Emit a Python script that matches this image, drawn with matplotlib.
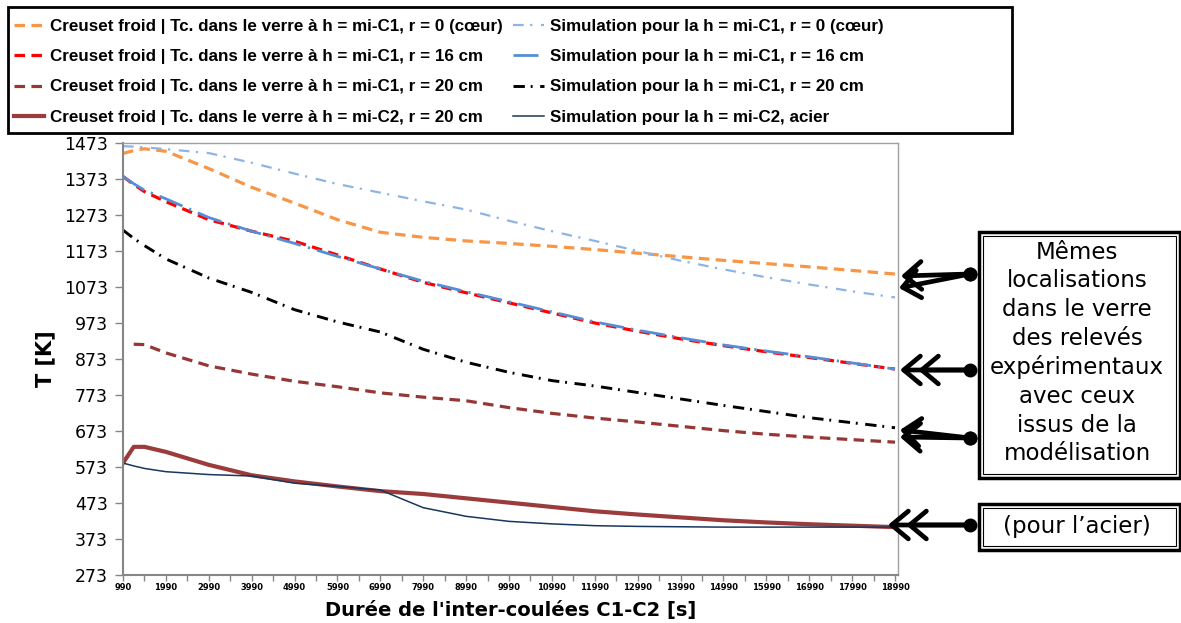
import numpy as np
import matplotlib
matplotlib.use("Agg")
import matplotlib.pyplot as plt
from matplotlib.patches import Rectangle
from matplotlib.lines import Line2D

W, H = 1181, 623

# temps (s) et températures (K)
times_s = [990, 1240, 1490, 1990, 2990, 3990, 4990, 5990, 6990, 7990, 8990,
           9990, 10990, 11990, 12990, 13990, 14990, 15990, 16990, 17990, 18990]

exp_c1_r0 = [1444, 1452, 1457, 1450, 1402, 1350, 1306, 1260, 1225, 1211, 1201,
             1194, 1186, 1177, 1167, 1157, 1147, 1138, 1129, 1119, 1109]
exp_c1_r16 = [1380, 1358, 1338, 1310, 1260, 1228, 1200, 1162, 1123, 1086, 1057,
              1029, 1001, 973, 950, 929, 910, 893, 877, 861, 845]
exp_c1_r20 = [np.nan, 914, 913, 890, 854, 831, 811, 796, 779, 767, 757,
              738, 722, 709, 698, 686, 674, 664, 656, 649, 642]
exp_c2_r20 = [584, 629, 629, 615, 579, 550, 533, 519, 506, 498, 486,
              474, 462, 450, 441, 433, 425, 419, 414, 410, 406]

sim_c1_r0 = [1464, 1463, 1461, 1456, 1445, 1418, 1388, 1359, 1335, 1311, 1288,
             1257, 1228, 1201, 1173, 1146, 1122, 1100, 1080, 1061, 1044]
sim_c1_r16 = [1380, 1360, 1342, 1318, 1266, 1228, 1194, 1158, 1123, 1089, 1060,
              1032, 1004, 976, 953, 932, 912, 895, 879, 862, 845]
sim_c1_r20 = [1231, 1208, 1188, 1151, 1098, 1058, 1010, 976, 948, 900, 864,
              836, 813, 798, 780, 762, 744, 727, 710, 696, 682]
sim_c2_acier = [584, 576, 569, 560, 552, 548, 528, 519, 509, 460, 436,
                422, 415, 410, 408, 407, 406, 406, 406, 406, 406]

y_ticks = list(range(273, 1474, 100))
x_ticks = list(range(990, 18991, 1000))

labels_exp = [
    "Creuset froid | Tc. dans le verre à h = mi-C1, r = 0 (cœur)",
    "Creuset froid | Tc. dans le verre à h = mi-C1, r = 16 cm",
    "Creuset froid | Tc. dans le verre à h = mi-C1, r = 20 cm",
    "Creuset froid | Tc. dans le verre à h = mi-C2, r = 20 cm",
]
labels_sim = [
    "Simulation pour la h = mi-C1, r = 0 (cœur)",
    "Simulation pour la h = mi-C1, r = 16 cm",
    "Simulation pour la h = mi-C1, r = 20 cm",
    "Simulation pour la h = mi-C2, acier",
]


def fx(x):
    return x / W


def fy(y):
    return 1 - y / H


fig = plt.figure(figsize=(W / 100, H / 100), dpi=100)
ax = fig.add_axes([fx(123), fy(575), (898 - 123) / W, (575 - 143) / H])

t = np.array(times_s)
h1, = ax.plot(t, exp_c1_r0, color="#F79646", lw=2.3, dashes=(3.3, 2.0))
h2, = ax.plot(t, exp_c1_r16, color="#FF0000", lw=2.3, dashes=(3.3, 2.0))
h3, = ax.plot(t, exp_c1_r20, color="#953735", lw=2.3, dashes=(3.3, 2.0))
h4, = ax.plot(t, exp_c2_r20, color="#9B3B3B", lw=3.0)
h5, = ax.plot(t, sim_c1_r0, color="#8EB4E3", lw=1.6, dashes=(4.8, 2.9, 1.0, 3.9))
h6, = ax.plot(t, sim_c1_r16, color="#558ED5", lw=2.0, dashes=(9.0, 2.6, 0.8, 2.6))
h7, = ax.plot(t, sim_c1_r20, color="black", lw=2.1, dashes=(3.9, 2.0, 0.65, 2.6))
h8, = ax.plot(t, sim_c2_acier, color="#17375E", lw=1.1)

ax.set_xlim(990, 19060)
ax.set_ylim(273, 1473)
ax.set_yticks(y_ticks)
ax.set_xticks(x_ticks)
ax.set_xticks(np.arange(1490, 19000, 1000), minor=True)
ax.tick_params(axis="y", labelsize=12.5, length=6, width=1, color="#868686", pad=5)
ax.tick_params(axis="x", which="both", length=4, width=1, color="#868686", pad=2)
for lab in ax.get_xticklabels():
    lab.set_fontsize(6)
    lab.set_fontweight("bold")
for sp in ax.spines.values():
    sp.set_color("#A0A0A0")
    sp.set_linewidth(1.0)
ax.spines["left"].set_color("#868686")
ax.spines["left"].set_linewidth(1.5)
ax.spines["bottom"].set_color("#868686")
ax.spines["bottom"].set_linewidth(1.5)

ax.set_xlabel("Durée de l'inter-coulées C1-C2 [s]", fontsize=14, fontweight="bold", labelpad=6)
ax.set_ylabel("T [K]", fontsize=15, fontweight="bold", labelpad=6)

# légende : cadre dessiné à part, plus large que son contenu
fig.add_artist(Rectangle((fx(8), fy(133)), fx(1012 - 8), (133 - 7) / H,
                         transform=fig.transFigure, fill=False, lw=2.0, ec="black"))
leg = fig.legend(
    [h1, h2, h3, h4, h5, h6, h7, h8],
    labels_exp + labels_sim,
    ncol=2,
    loc="upper left",
    bbox_to_anchor=(fx(5), fy(10)),
    bbox_transform=fig.transFigure,
    borderaxespad=0,
    prop={"family": "Liberation Sans", "weight": "bold", "size": 12.25},
    handlelength=1.8,
    handletextpad=0.35,
    columnspacing=0.6,
    labelspacing=0.91,
    borderpad=0.5,
    frameon=False,
)

# encadrés à double trait
for (x0, y0, x1, y1) in [(979, 232, 1180, 478), (979, 504, 1180, 550)]:
    fig.add_artist(Rectangle((fx(x0), fy(y1)), fx(x1 - x0), (y1 - y0) / H,
                             transform=fig.transFigure, fill=False, lw=2.5, ec="black"))
    fig.add_artist(Rectangle((fx(x0 + 4), fy(y1 - 4)), fx(x1 - x0 - 8), (y1 - y0 - 8) / H,
                             transform=fig.transFigure, fill=False, lw=0.8, ec="black"))

fig.text(fx(1077), fy(353),
         "Mêmes\nlocalisations\ndans le verre\ndes relevés\nexpérimentaux\navec ceux\nissus de la\nmodélisation",
         ha="center", va="center", fontsize=16.5, linespacing=1.31)
fig.text(fx(1077), fy(526), "(pour l\u2019acier)", ha="center", va="center", fontsize=16.5)

# flèches vers les courbes
arrows = [
    ((970, 274), [(901, 276)]),
    ((970, 274), [(899, 288)]),
    ((970, 370), [(900, 370), (918, 370)]),
    ((970, 438), [(900, 430)]),
    ((970, 438), [(900, 437)]),
    ((970, 525), [(888, 525), (906, 525)]),
]
for (sx, sy), tips in arrows:
    for (tx, ty) in tips:
        fig.add_artist(plt.Annotation(
            "", xy=(tx, H - ty), xycoords="figure pixels",
            xytext=(sx, H - sy), textcoords="figure pixels",
            arrowprops=dict(arrowstyle="->,head_length=0.6,head_width=0.5",
                            lw=3.4, color="black", mutation_scale=20,
                            shrinkA=0, shrinkB=0)))
    fig.add_artist(Line2D([fx(sx)], [fy(sy)], marker="o", markersize=9, color="black",
                          transform=fig.transFigure))

fig.savefig("out.png", dpi=100)
